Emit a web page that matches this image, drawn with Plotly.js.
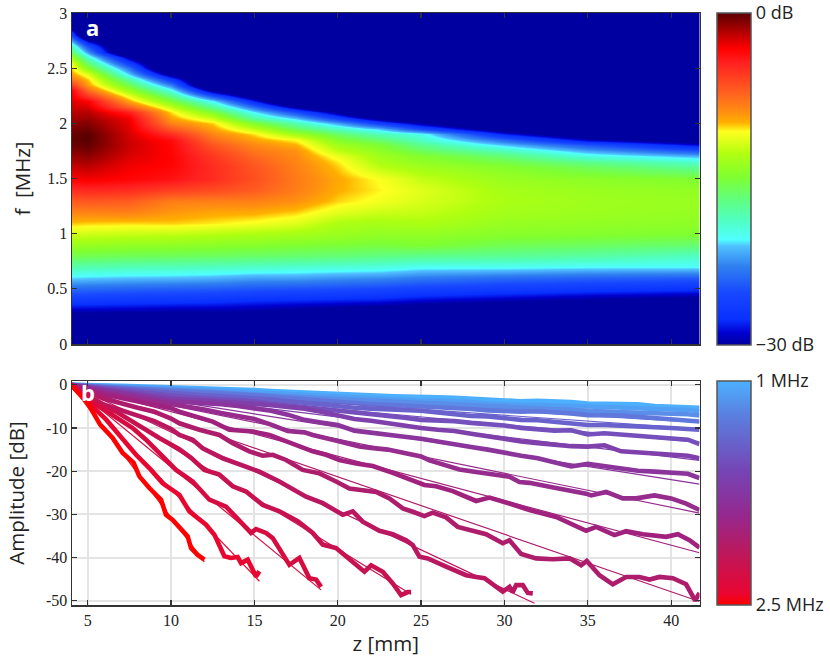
<!DOCTYPE html>
<html><head><meta charset="utf-8">
<script src="https://cdn.plot.ly/plotly-3.0.1.min.js"></script>
<style>html,body{margin:0;padding:0;background:#fff}#c{width:830px;height:659px}</style>
</head><body><div id="c"></div>
<script>
// ---------- panel a: spectrum (dB), one column per z, rows listed in specF. Cells past the end of a column are below the -30 dB colour floor.
const specF = [0,.1,.2,.3,.4,.5,.6,.7,.8,.9,1,1.1,1.2,1.3,1.4,1.5,1.6,1.65,1.7,1.75,1.8,1.85,1.9,1.95,2,2.05,2.1,2.15,2.2,2.25,2.3,2.35,2.4,2.45,2.5,2.55,2.6,2.65,2.7,2.75,2.8,2.85,2.9,3];
const specZ = [4,5,7.5,10,12.5,15,17.5,20,22.5,25,30,35,41.7];
const floorDb = -36;
const col04 = [-36,-36,-33,-29.5,-26.5,-23.9,-20.9,-18.2,-15.6,-13.7,-11.9,-10.1,-8.5,-7,-5,-3.2,-2.2,-1.7,-1.3,-.8,-.4,-.2,-.3,-.6,-1,-1.4,-1.8,-2.2,-2.5,-2.9,-3.2,-5.6,-8,-9.4,-10.2,-11.1,-13.3,-15.9,-18.4,-21.3,-25.3,-28.4];
const col05 = [-36,-36,-33,-29.5,-26.6,-24,-21,-18.3,-15.7,-13.8,-12,-10.2,-8.5,-6.8,-4.8,-3,-2,-1.5,-1,-.6,-.2,0,0,-.4,-.8,-1.3,-1.8,-2.5,-3.2,-5.4,-7.7,-9.4,-10.3,-11.5,-14.4,-16.5,-19.3,-22.3,-25.3,-29];
const col07 = [-36,-36,-33,-29.6,-26.8,-24.2,-21.2,-18.5,-15.9,-14,-12.2,-10.3,-8.4,-7,-5,-3.4,-3,-2.8,-2.5,-2.3,-2.2,-2.3,-2.4,-2.6,-2.8,-3,-4.4,-7.2,-9.6,-11.2,-13.6,-15.6,-18.1,-21,-23.5,-26.5,-30];
const col10 = [-36,-36,-33,-29.8,-27,-24.4,-21.3,-18.6,-16,-14.1,-12.3,-10.2,-9.2,-8.3,-5.8,-3.9,-3.4,-3.3,-3.3,-3.4,-3.4,-3.6,-5,-6.7,-8.5,-9.5,-10.4,-12.2,-14.8,-16.9,-19.9,-22.9,-26.8,-31];
const col12 = [-36,-36,-33,-29.8,-27.2,-24.5,-21.5,-18.8,-16.1,-14.3,-12.6,-10.5,-9.6,-8.4,-6.3,-5,-5,-5.2,-5.5,-6,-6.7,-7.6,-8.6,-9.5,-10.3,-12.2,-14.8,-17.5,-20.5,-25,-31];
const col15 = [-36,-36,-33,-30,-27.6,-24.8,-22,-19,-16.3,-14.5,-12.9,-10.9,-9.7,-8.4,-7,-6.5,-6.7,-7,-7.5,-8,-8.7,-9.5,-10.4,-12.2,-14.8,-17.9,-20.5,-23.7,-28,-32];
const col17 = [-36,-36,-33,-30.5,-27.8,-25,-22,-19.2,-16.5,-14.8,-13.2,-11.5,-10.2,-9,-8.3,-8.2,-8.4,-8.6,-8.8,-9,-9.8,-10.7,-13.3,-15.9,-18.3,-21.3,-25.3,-30];
const col20 = [-36,-36,-33,-31,-28,-25.2,-22.4,-19.4,-16.7,-15,-13.6,-12.9,-11.4,-10.3,-9.8,-9.7,-10.2,-10.5,-11.2,-12.3,-13.4,-14.5,-16.2,-18.6,-22,-26.2,-30.5];
const col22 = [-36,-36,-33,-31.5,-28.2,-25.5,-22.6,-19.6,-17,-15.2,-14,-13.2,-12,-11,-10.6,-10.8,-12.4,-13,-13.4,-14,-14.8,-16.3,-18.4,-21,-26.2,-31];
const col25 = [-36,-36,-33,-32,-28.8,-26,-23.2,-20.2,-17.3,-14.8,-14,-12.9,-12.2,-11.7,-11.5,-12.2,-13.4,-14,-14.6,-15.8,-17.2,-18.7,-19.9,-25.3,-30];
const col30 = [-36,-36,-33,-33,-29.5,-26.5,-23.8,-20.2,-17.5,-15.7,-14.4,-13.8,-13.3,-13,-13.2,-13.7,-14.5,-15.4,-16.6,-18.3,-21,-23.7,-28,-32];
const col35 = [-36,-36,-33,-33,-30.2,-27,-24.2,-20.5,-17.9,-16,-14.6,-14,-13.6,-13.5,-13.7,-14.2,-15.9,-17.2,-19.6,-21.7,-24.7,-29,-33];
const col41 = [-36,-36,-33,-33,-31,-27.5,-24.5,-20.5,-18.8,-16.5,-14.8,-14.2,-13.9,-13.8,-14,-14.8,-17.6,-19.1,-21.5,-24.7,-28.6,-32];
const specCols = [col04,col05,col07,col10,col12,col15,col17,col20,col22,col25,col30,col35,col41];

// ---------- panel b: amplitude curves (dB vs z mm)
const freqs = [1,1.1,1.2,1.3,1.4,1.5,1.6,1.7,1.8,1.9,2,2.1,2.2,2.3,2.4,2.5];
const lineColors = ['#4cb0ff','#52a0f5','#5a8ee8','#6078dc','#6a62cc','#7550bc','#7f40ac','#8b349c','#962c8e','#a0227e','#ad1d6c','#bb1760','#c81250','#d60c40','#e80630','#ff0000'];
const zUp = [4,5,6,7,8,9,10,11,12,13,14,15,16,17,18,19,20,21,22,23,24,25,26,27,28,29,30,31,32,33,34,35,36,37,38,39,40,41,41.7];
const a10 = [0,0,-.1,-.2,-.3,-.4,-.5,-.6,-.7,-.8,-1,-1.2,-1.4,-1.6,-1.8,-2,-2.2,-2.4,-2.5,-2.6,-2.7,-2.9,-2.9,-3,-3.2,-3.4,-3.7,-3.8,-3.7,-3.8,-4,-4.3,-4.4,-4.4,-4.5,-4.9,-5,-5.1,-5.3];
const a11 = [0,-.1,-.2,-.3,-.4,-.6,-.8,-1,-1.1,-1.3,-1.5,-1.7,-1.9,-2.2,-2.4,-2.7,-2.9,-3.1,-3.2,-3.3,-3.5,-3.7,-3.7,-3.8,-4,-4.3,-4.6,-4.7,-4.6,-4.7,-4.9,-5.1,-5.2,-5.3,-5.4,-5.6,-5.6,-5.8,-6.1];
const a12 = [0,-.15,-.3,-.5,-.7,-.9,-1.1,-1.3,-1.5,-1.7,-1.9,-2.1,-2.3,-2.6,-2.9,-3.2,-3.5,-3.8,-3.9,-4,-4.2,-4.4,-4.3,-4.5,-4.8,-5.2,-5,-5.4,-5.5,-5.7,-5.8,-6.1,-6.2,-6.3,-6.5,-6.6,-6.7,-6.8,-7.1];
const a13 = [0,-.2,-.4,-.6,-.8,-1.1,-1.4,-1.6,-1.8,-2,-2.2,-2.4,-2.7,-3,-3.3,-3.7,-4.1,-4.4,-4.5,-4.6,-4.8,-5,-5,-5.3,-5.6,-5.9,-6.1,-6.2,-6.1,-6.3,-6.6,-7,-7,-7.1,-7.4,-7.7,-8,-8.2,-8.5];
const a14 = [0,-.3,-.6,-.9,-1.2,-1.6,-2,-2.2,-2.4,-2.6,-2.8,-3,-3.4,-3.8,-4.2,-4.6,-5,-5.3,-5.5,-5.6,-5.8,-6,-6.4,-6.9,-7.2,-7.3,-7.7,-8.1,-8.2,-8.6,-8.9,-9.3,-9.3,-9.4,-9.6,-9.8,-10,-10.2,-10.4];
const a15 = [0,-.4,-.8,-1.2,-1.6,-2.1,-2.6,-2.9,-3.1,-3.3,-3.5,-3.8,-4.3,-4.7,-5,-5.4,-5.9,-6.3,-6.7,-7.2,-7.6,-8.1,-8.2,-8.4,-8.8,-9,-9.4,-10,-10.4,-10.6,-10.5,-11.5,-11.2,-11.5,-11.7,-12,-12.3,-12.7,-13.7];
const a16 = [0,-.5,-1,-1.5,-2,-2.6,-3.2,-3.4,-3.6,-3.9,-4.1,-4.4,-4.7,-5,-5.5,-6.2,-7,-7.9,-8.3,-8.9,-9.5,-10,-10.4,-10.7,-11.3,-11.9,-12.6,-13.1,-13.5,-13.9,-14.2,-14.3,-14,-15.4,-15.6,-15.8,-16.2,-16.4,-17];
const a17 = [0,-.7,-1.4,-2,-2.6,-3.2,-3.8,-4,-4.2,-4.5,-4.9,-5.4,-6,-6.9,-8.1,-8.7,-9.3,-10.6,-11,-11.4,-12,-12.5,-13.2,-13.8,-14.4,-15,-15.8,-16.4,-17,-17.9,-18.9,-18.3,-18.9,-19.5,-19.9,-20.1,-20.3,-20.6,-21.6];

const z18 = [4,5,6,7,8,9,10,11,12,13,14,15,16,17,18,18.5,20,21.3,22,23,24,25,25.5,26.3,27.3,28.3,29.5,30.3,30.9,31.5,32.7,33.9,34.9,35.2,36.1,37.1,37.9,39,40,40.9,41.7];
const a18 = [0,-1,-1.8,-2.5,-3.1,-3.8,-4.5,-5,-5.7,-6.5,-7.2,-7.9,-9.2,-10.7,-11,-11.6,-13,-14.3,-14.6,-15,-15.8,-16.6,-17.5,-18.4,-19.6,-20.2,-20.9,-21.3,-22.5,-22.7,-23.6,-24.4,-25.2,-25.6,-24.8,-26.3,-26.3,-25.6,-26.3,-27.5,-29];
const z19 = [4,5,6,7,8,9,10,10.5,11.5,12.5,13.5,14.9,15.9,16.7,17.7,18.5,19.3,20.1,21.1,22.1,23.3,24.5,25.2,25.9,26.9,28.3,29.1,30.3,31.5,33.1,34.5,34.9,35.5,36.6,37.3,38.3,39.7,40.4,41.1,41.7];
const a19 = [0,-1.3,-2.2,-3,-3.8,-4.6,-5.4,-6.2,-7.3,-8.5,-10.4,-10.8,-11.6,-12.7,-14.3,-15.4,-16.2,-17.4,-18.2,-18.8,-20.4,-22.1,-23.2,-23.5,-24.6,-26.9,-26.1,-27.5,-29,-30.6,-33.3,-33.8,-32.9,-34.8,-33.9,-34.6,-35.2,-34.6,-36,-37.7];
const z20 = [4,5,6,7,8,9,10,10.5,11.7,12.9,13.7,14.7,15.5,16.1,16.9,17.9,18.9,19.9,20.7,21.5,22.3,23.1,23.9,24.5,25.2,25.7,26.5,27.2,28.1,28.9,29.9,30.3,31,31.9,32.9,33.9,34.6,34.94,35.7,36.5,37.3,38.1,38.7,39.3,40.1,40.9,41.44,41.7];
const a20 = [0,-1.8,-3.2,-4.3,-5.3,-6.2,-7.8,-8.9,-10.4,-11.6,-13.5,-15.4,-16.4,-16.2,-17.4,-19.7,-20.5,-22.4,-24,-24.4,-24.8,-26.3,-28.6,-29.4,-30.4,-29.6,-30.7,-32.9,-33.7,-34.6,-36.7,-36,-39.2,-40.2,-40.4,-40.2,-41.8,-40.8,-44.1,-46.2,-44.5,-44.5,-45.1,-44.5,-44.8,-46.2,-50,-48.2];
const z21 = [4,5,6,7,8,9,10,10.5,11.3,11.9,13.1,13.9,14.9,15.3,16.5,18.1,19.1,20.3,20.9,21.5,22.5,23.3,24.1,24.5,24.9,25.4,26.5,27.7,28.3,28.8,29.9,30.3,30.5,30.7,31.1,31.4,31.7];
const a21 = [0,-2.5,-4.6,-5.9,-7.2,-8.4,-10.2,-11.6,-12.7,-14.7,-17,-18.1,-19.7,-20.1,-22.4,-25.9,-27.4,-30.1,-29.3,-31.7,-33.8,-34.6,-36,-37.1,-39.8,-40.2,-42.1,-44.1,-44.5,-44.8,-47.9,-46.8,-48,-46.4,-46.4,-48.2,-48.3];
const z22 = [4,5,5.5,6.7,8.1,9.3,10,10.5,11.2,12,12.9,13.7,14.5,15.5,16.5,17.6,18.5,19.1,19.9,20.7,21.6,22,22.7,23.3,23.8,24.2,24.4];
const a22 = [0,-3,-4.6,-6.2,-9.6,-12.3,-13.8,-14.9,-16.9,-19.7,-20.8,-23.5,-24.7,-27.8,-29.3,-31.6,-34.3,-37,-37.8,-40.5,-43.3,-41.8,-43.3,-46,-48.7,-48,-48];
const z23 = [4,5,6.3,7.7,8.5,9.3,10.3,11.3,12.3,13.3,14.1,14.8,15.1,15.7,16.1,17.1,17.7,18.3,18.7,19];
const a23 = [0,-3.4,-6.5,-10,-12.7,-15.8,-19.7,-22.4,-26.6,-28.2,-31.6,-34.3,-33.4,-34.3,-35.5,-41.7,-40.1,-44.8,-45.1,-46.8];
const z24 = [4,5,6.1,7.1,7.9,8.8,9.5,10.5,11.1,12.1,12.6,13.2,13.6,14,14.2,14.6,15.1,15.3];
const a24 = [0,-4,-8,-12.7,-16.2,-19.7,-22.8,-25.5,-29.3,-32.4,-34.7,-39.7,-40.1,-39.9,-41.3,-40.5,-44.4,-43.2];
const z25 = [4,5,5.75,6.5,7.1,7.75,8.1,8.7,9.4,9.7,10.1,10.6,11,11.2,11.6,12];
const a25 = [0,-4.2,-9.2,-12.3,-15.8,-18,-21.2,-23.9,-26.6,-30.1,-31.3,-33.6,-35.1,-37.8,-39.4,-40.5];
const curveZ = [zUp,zUp,zUp,zUp,zUp,zUp,zUp,zUp,z18,z19,z20,z21,z22,z23,z24,z25];
const curveA = [a10,a11,a12,a13,a14,a15,a16,a17,a18,a19,a20,a21,a22,a23,a24,a25];
// straight fits: each runs from (fitStartZ, 0) to (fitEndZ, fitEndA)
const fitStartZ = 4;
const fitEndZ = [41.7,41.7,41.7,41.7,41.7,41.7,41.7,41.7,41.7,41.7,41.7,31.8,24.4,19,15.3,12];
const fitEndA = [-5.2,-6.1,-6.8,-8.7,-10.2,-13.3,-17.5,-23,-29.7,-38.9,-50.2,-50.6,-48.5,-47.5,-45.5,-41];

// tick labels
const zTicks = [5,10,15,20,25,30,35,40];
const fTicks = [0,.5,1,1.5,2,2.5,3];
const fLabels = ['0','0.5','1','1.5','2','2.5','3'];
const aTicks = [0,-10,-20,-30,-40,-50];
const aLabels = ['0','-10','-20','-30','-40','-50'];

// ---------- chart
const W=830,H=659;
const heatZ = specF.map((_,r)=>specCols.map(c=>r<c.length?c[r]:floorDb));
const jetScale = [[0,'#0000a0'],[.037,'#0000d0'],[.077,'#0830ff'],[.157,'#1848ff'],[.237,'#3080f0'],[.297,'#50c0ff'],[.317,'#50ffff'],[.377,'#50ffc0'],[.437,'#60ff80'],[.507,'#80ff30'],[.575,'#b0ff10'],[.643,'#ffff20'],[.67,'#ffb000'],[.70,'#ff9010'],[.76,'#ff6020'],[.85,'#ff2020'],[.893,'#ff0000'],[1,'#5a0000']];
const freqScale = [[0,'#ff0000'],[.05,'#ea0530'],[.25,'#b81a60'],[.4,'#95288f'],[.6,'#7545b5'],[.85,'#5a80e0'],[1,'#4cb0ff']];
const serif = '"Liberation Serif", serif', sans = '"Open Sans", sans-serif';
const cbCommon = {thickness:34,thicknessmode:'pixels',lenmode:'fraction',xanchor:'left',x:716.7/W,xpad:0,ypad:0,yanchor:'bottom',
  outlinecolor:'#555',outlinewidth:1.5,ticks:'',tickfont:{family:sans,size:18,color:'#222'},tickmode:'array'};
const traces = [{
  type:'heatmap',x:specZ,y:specF,z:heatZ,xaxis:'x',yaxis:'y',zmin:-30,zmax:0,zsmooth:'best',colorscale:jetScale,hoverinfo:'skip',
  colorbar:Object.assign({},cbCommon,{len:332/H,y:(H-345)/H,tickvals:[0,-30],ticktext:['0 dB','\u221230 dB']})
}];
freqs.forEach((f,i)=>{
  traces.push({type:'scatter',mode:'lines',x:[fitStartZ,fitEndZ[i]],y:[0,fitEndA[i]],xaxis:'x2',yaxis:'y2',line:{color:lineColors[i],width:1.2},hoverinfo:'skip',showlegend:false,name:f+' MHz fit'});
  traces.push({type:'scatter',mode:'lines',x:curveZ[i],y:curveA[i],xaxis:'x2',yaxis:'y2',line:{color:lineColors[i],width:4.6},hoverinfo:'skip',showlegend:false,name:f+' MHz'});
});
traces.push({type:'scatter',mode:'markers',x:[10,10],y:[200,200],xaxis:'x2',yaxis:'y2',hoverinfo:'skip',showlegend:false,
  marker:{size:1,opacity:0,color:[-2.5,-1],cmin:-2.5,cmax:-1,colorscale:freqScale,showscale:true,
  colorbar:Object.assign({},cbCommon,{len:224/H,y:(H-605)/H,tickvals:[-1,-2.5],ticktext:['1 MHz','2.5 MHz']})}});

const axBase = {showline:true,linecolor:'#333',linewidth:1.5,mirror:'ticks',ticks:'inside',ticklen:5,tickwidth:1.2,tickcolor:'#333',
  tickfont:{family:serif,size:16,color:'#222'},zeroline:false,tickmode:'array'};
const dom = {x:[72/W,699.5/W],yTop:[(H-344)/H,(H-13)/H],yBot:[(H-605)/H,(H-381)/H]};
const layout = {
  width:W,height:H,margin:{l:0,r:0,t:0,b:0,autoexpand:false},paper_bgcolor:'#fff',plot_bgcolor:'#fff',showlegend:false,
  xaxis:Object.assign({},axBase,{domain:dom.x,anchor:'y',range:[4.06,41.7],tickvals:zTicks,showticklabels:false,showgrid:false}),
  yaxis:Object.assign({},axBase,{domain:dom.yTop,anchor:'x',range:[0,3],tickvals:fTicks,ticktext:fLabels,showgrid:false,
    title:{text:'f  [MHz]',font:{family:sans,size:20.5,color:'#222'},standoff:11},automargin:true}),
  xaxis2:Object.assign({},axBase,{domain:dom.x,anchor:'y2',range:[4.06,41.7],tickvals:zTicks,ticktext:zTicks.map(String),showgrid:true,gridcolor:'#e4e4e4',gridwidth:2,
    title:{text:'z [mm]',font:{family:sans,size:20.5,color:'#222'},standoff:8},automargin:true}),
  yaxis2:Object.assign({},axBase,{domain:dom.yBot,anchor:'x2',range:[-51,0.9],tickvals:aTicks,ticktext:aLabels,showgrid:true,gridcolor:'#e4e4e4',gridwidth:2,
    title:{text:'Amplitude [dB]',font:{family:sans,size:20.5,color:'#222'},standoff:16},automargin:true}),
  annotations:[
    {text:'<b>a</b>',xref:'paper',yref:'paper',x:92/W,y:(H-27)/H,xanchor:'center',yanchor:'middle',showarrow:false,font:{family:sans,size:22,color:'#fff'}},
    {text:'<b>b</b>',xref:'paper',yref:'paper',x:88/W,y:(H-392)/H,xanchor:'center',yanchor:'middle',showarrow:false,font:{family:sans,size:22,color:'#fff'}}
  ]
};
Plotly.newPlot('c',traces,layout,{displayModeBar:false,staticPlot:true});
</script></body></html>
